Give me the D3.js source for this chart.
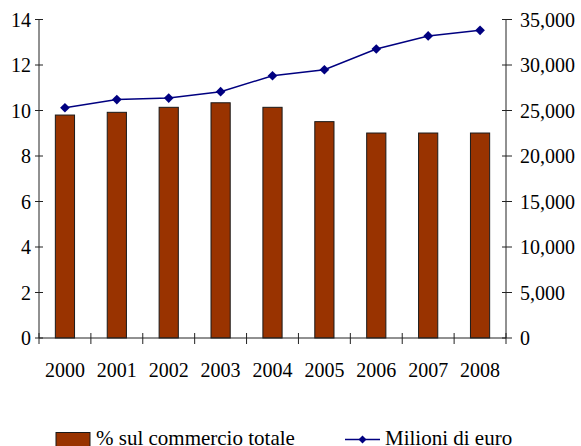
<!DOCTYPE html>
<html>
<head>
<meta charset="utf-8">
<script src="https://cdn.jsdelivr.net/npm/d3@7"></script>
<style>
  body { margin: 0; background: #fff; }
</style>
</head>
<body>
<div id="chart"></div>
<script>
// Chart data
const years = ['2000', '2001', '2002', '2003', '2004', '2005', '2006', '2007', '2008'];
const sharePct = [9.8, 9.92, 10.14, 10.34, 10.14, 9.51, 9.01, 9.01, 9.01];
const milioniEuro = [25300, 26200, 26370, 27070, 28820, 29480, 31760, 33190, 33810];
const leftTicks = [0, 2, 4, 6, 8, 10, 12, 14];
const rightTicks = [0, 5000, 10000, 15000, 20000, 25000, 30000, 35000];

const W = 581, H = 446;
const plot = { left: 39, right: 506, top: 19.5, bottom: 338 };
const FONT = '"Liberation Serif", "Times New Roman", Tinos, serif';

const svg = d3.select('#chart').append('svg')
  .attr('width', W).attr('height', H)
  .style('display', 'block')
  .style('font-family', FONT);

const x = d3.scaleBand()
  .domain(years)
  .range([plot.left, plot.right]);

const yL = d3.scaleLinear().domain([0, 14]).range([plot.bottom, plot.top]);
const yR = d3.scaleLinear().domain([0, 35000]).range([plot.bottom, plot.top]);

const barW = x.bandwidth() * 0.37;

// Bars
svg.append('g').selectAll('rect')
  .data(years)
  .join('rect')
  .attr('x', (d) => x(d) + x.bandwidth() / 2 - barW / 2)
  .attr('y', (d, i) => yL(sharePct[i]))
  .attr('width', barW)
  .attr('height', (d, i) => plot.bottom - yL(sharePct[i]))
  .attr('fill', '#993300')
  .attr('stroke', '#1a1a1a')
  .attr('stroke-width', 1);

// Axes (Excel-style crossing ticks)
const axisCol = '#222';
const fontSize = 20;

const left = svg.append('g');
left.append('line')
  .attr('x1', plot.left).attr('x2', plot.left)
  .attr('y1', plot.top).attr('y2', plot.bottom)
  .attr('stroke', axisCol);
left.selectAll('line.tick').data(leftTicks).join('line')
  .attr('class', 'tick')
  .attr('x1', plot.left - 4).attr('x2', plot.left + 4)
  .attr('y1', d => yL(d)).attr('y2', d => yL(d))
  .attr('stroke', axisCol);
left.selectAll('text').data(leftTicks).join('text')
  .attr('x', plot.left - 8)
  .attr('y', d => yL(d))
  .attr('dy', '0.35em')
  .attr('text-anchor', 'end')
  .attr('font-size', fontSize)
  .text(d => d);

const right = svg.append('g');
right.append('line')
  .attr('x1', plot.right).attr('x2', plot.right)
  .attr('y1', plot.top).attr('y2', plot.bottom)
  .attr('stroke', axisCol);
right.selectAll('line.tick').data(rightTicks).join('line')
  .attr('class', 'tick')
  .attr('x1', plot.right - 4).attr('x2', plot.right + 6)
  .attr('y1', d => yR(d)).attr('y2', d => yR(d))
  .attr('stroke', axisCol);
right.selectAll('text').data(rightTicks).join('text')
  .attr('x', plot.right + 14)
  .attr('y', d => yR(d))
  .attr('dy', '0.35em')
  .attr('font-size', fontSize)
  .text(d => d3.format(',')(d));

const bottom = svg.append('g');
bottom.append('line')
  .attr('x1', plot.left).attr('x2', plot.right)
  .attr('y1', plot.bottom).attr('y2', plot.bottom)
  .attr('stroke', axisCol);
const xEdges = years.map(d => x(d)).concat([x(years[years.length - 1]) + x.bandwidth()]);
bottom.selectAll('line.tick').data(xEdges).join('line')
  .attr('class', 'tick')
  .attr('x1', d => d).attr('x2', d => d)
  .attr('y1', plot.bottom - 5).attr('y2', plot.bottom + 6)
  .attr('stroke', axisCol);
bottom.selectAll('text').data(years).join('text')
  .attr('x', d => x(d) + x.bandwidth() / 2)
  .attr('y', 377)
  .attr('text-anchor', 'middle')
  .attr('font-size', fontSize)
  .text(d => d);

// Line series
const line = d3.line()
  .x((d, i) => x(years[i]) + x.bandwidth() / 2)
  .y(d => yR(d));

svg.append('path')
  .datum(milioniEuro)
  .attr('d', line)
  .attr('fill', 'none')
  .attr('stroke', '#000080')
  .attr('stroke-width', 1.5);

const diamond = d3.symbol().type(d3.symbolDiamond2).size(60);
svg.append('g').selectAll('path')
  .data(milioniEuro)
  .join('path')
  .attr('d', diamond)
  .attr('transform', (d, i) => `translate(${x(years[i]) + x.bandwidth() / 2},${yR(d)})`)
  .attr('fill', '#000080');

// Legend (cut by the bottom edge, as in the original)
const lg = svg.append('g');
lg.append('rect')
  .attr('x', 56).attr('y', 432.5)
  .attr('width', 34).attr('height', 16)
  .attr('fill', '#993300')
  .attr('stroke', '#1a1a1a');
lg.append('text')
  .attr('x', 96).attr('y', 445)
  .attr('font-size', 21)
  .text('% sul commercio totale');
lg.append('line')
  .attr('x1', 345).attr('x2', 380)
  .attr('y1', 439.5).attr('y2', 439.5)
  .attr('stroke', '#000080')
  .attr('stroke-width', 1.5);
lg.append('path')
  .attr('d', d3.symbol().type(d3.symbolDiamond2).size(40))
  .attr('transform', 'translate(362.5,439.5)')
  .attr('fill', '#000080');
lg.append('text')
  .attr('x', 385).attr('y', 445)
  .attr('font-size', 21)
  .text('Milioni di euro');
</script>
</body>
</html>
